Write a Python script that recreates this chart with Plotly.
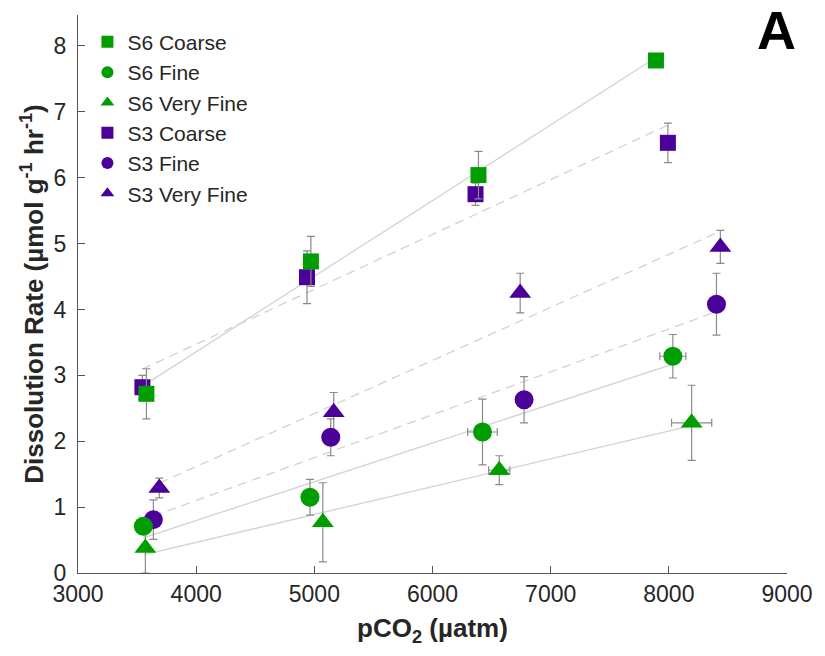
import numpy as np
import plotly.graph_objects as go

# ---------------- data ----------------
s6_coarse_x = [3579, 4971, 6389, 7891]
s6_coarse_y = [2.72, 4.73, 6.04, 7.78]
s6_coarse_ey = [0.38, 0.38, 0.36, 0.0]
s6_coarse_ex = [0, 0, 0, 0]

s6_fine_x = [3553, 4963, 6423, 8034]
s6_fine_y = [0.71, 1.15, 2.14, 3.29]
s6_fine_ey = [0.08, 0.27, 0.50, 0.33]
s6_fine_ex = [0, 0, 125, 110]

s6_vfine_x = [3570, 5072, 6565, 8193]
s6_vfine_y = [0.38, 0.77, 1.56, 2.28]
s6_vfine_ey = [0.38, 0.60, 0.22, 0.57]
s6_vfine_ex = [0, 0, 90, 170]

s3_coarse_x = [3545, 4938, 6364, 7992]
s3_coarse_y = [2.82, 4.49, 5.75, 6.53]
s3_coarse_ey = [0.18, 0.40, 0.17, 0.30]
s3_coarse_ex = [0, 0, 0, 0]

s3_fine_x = [3638, 5139, 6775, 8403]
s3_fine_y = [0.81, 2.06, 2.63, 4.08]
s3_fine_ey = [0.30, 0.28, 0.35, 0.47]
s3_fine_ex = [0, 0, 0, 0]

s3_vfine_x = [3688, 5164, 6742, 8436]
s3_vfine_y = [1.29, 2.44, 4.25, 4.95]
s3_vfine_ey = [0.15, 0.30, 0.30, 0.25]
s3_vfine_ex = [0, 0, 0, 0]

x_ticks = [3000, 4000, 5000, 6000, 7000, 8000, 9000]
y_ticks = [0, 1, 2, 3, 4, 5, 6, 7, 8]

GREEN = "#009E00"
PURPLE = "#4A0099"
FIT = "#d2d2d2"
ERR = "#8a8a8a"
FONT = "Liberation Sans, Arial, Helvetica, sans-serif"

series = [
    # name, x, y, ey, ex, color, symbol, size, dashed, rank
    ("S3 Very Fine", s3_vfine_x, s3_vfine_y, s3_vfine_ey, s3_vfine_ex, PURPLE, "triangle-up", 19, True, 6),
    ("S3 Fine", s3_fine_x, s3_fine_y, s3_fine_ey, s3_fine_ex, PURPLE, "circle", 19, True, 5),
    ("S3 Coarse", s3_coarse_x, s3_coarse_y, s3_coarse_ey, s3_coarse_ex, PURPLE, "square", 16, True, 4),
    ("S6 Very Fine", s6_vfine_x, s6_vfine_y, s6_vfine_ey, s6_vfine_ex, GREEN, "triangle-up", 19, False, 3),
    ("S6 Fine", s6_fine_x, s6_fine_y, s6_fine_ey, s6_fine_ex, GREEN, "circle", 19, False, 2),
    ("S6 Coarse", s6_coarse_x, s6_coarse_y, s6_coarse_ey, s6_coarse_ex, GREEN, "square", 16, False, 1),
]

fig = go.Figure()

# regression lines (behind markers)
for name, x, y, ey, ex, col, sym, sz, dashed, rank in series:
    xa = np.array(x, dtype=float)
    ya = np.array(y, dtype=float)
    m, b = np.polyfit(xa, ya, 1)
    xs = np.array([xa.min(), xa.max()])
    fig.add_trace(go.Scatter(
        x=xs, y=m * xs + b, mode="lines", showlegend=False, hoverinfo="skip",
        line=dict(color=FIT, width=1.3, dash="9px,6px" if dashed else "solid"),
    ))

for name, x, y, ey, ex, col, sym, sz, dashed, rank in series:
    fig.add_trace(go.Scatter(
        x=x, y=y, mode="markers", name=name, legendrank=rank,
        marker=dict(symbol=sym, size=sz, color=col, line=dict(width=0)),
        error_y=dict(type="data", array=ey, visible=True, color=ERR, thickness=1.2, width=4),
        error_x=dict(type="data", array=ex, visible=any(v > 0 for v in ex), color=ERR, thickness=1.2, width=4),
    ))

fig.add_annotation(
    x=0.9845, y=0.974, xref="paper", yref="paper", text="<b>A</b>", showarrow=False,
    xanchor="center", yanchor="middle", font=dict(size=54, color="black", family=FONT),
)

fig.update_layout(
    width=825, height=656,
    margin=dict(l=78, r=32, t=15, b=83),
    paper_bgcolor="white", plot_bgcolor="white",
    font=dict(family=FONT, color="#262626", size=23),
    showlegend=True,
    legend=dict(
        x=0.0133, y=0.988, xanchor="left", yanchor="top",
        bgcolor="rgba(0,0,0,0)", font=dict(size=21, color="#262626", family=FONT),
        itemsizing="constant", tracegroupgap=0,
    ),
    xaxis=dict(
        range=[3000, 9000], tickvals=x_ticks, ticktext=[str(v) for v in x_ticks],
        showgrid=False, zeroline=False, showline=True, linecolor="#555", linewidth=1.2,
        ticks="inside", ticklen=7, tickcolor="#555", tickwidth=1.2,
        tickfont=dict(size=23, color="#262626"),
        title=dict(text="<b>pCO<sub>2</sub> (µatm)</b>", font=dict(size=26, color="#262626"), standoff=13),
    ),
    yaxis=dict(
        range=[0, 8.47], tickvals=y_ticks, ticktext=[str(v) for v in y_ticks],
        showgrid=False, zeroline=False, showline=True, linecolor="#555", linewidth=1.2,
        ticks="inside", ticklen=7, tickcolor="#555", tickwidth=1.2,
        tickfont=dict(size=23, color="#262626"), ticklabelstandoff=6,
        title=dict(text="<b>Dissolution Rate (µmol g<sup>-1</sup> hr<sup>-1</sup>)</b>",
                   font=dict(size=26, color="#262626"), standoff=2),
    ),
)

fig.write_html("out.html")
